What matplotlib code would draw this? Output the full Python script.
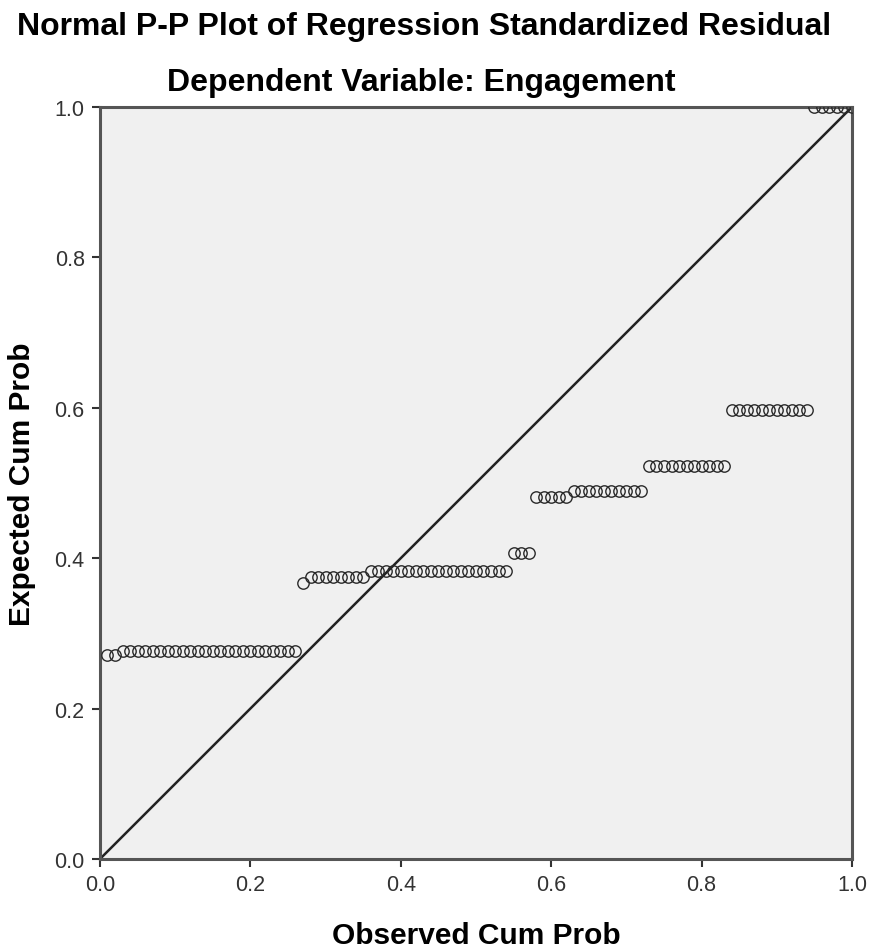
"""
Normal P-P plot of regression standardized residuals (SPSS style).
"""

import matplotlib
matplotlib.use("Agg")
import matplotlib.pyplot as plt
import numpy as np

# observed cumulative probability of each case (100 cases)
observed = [
    0.01, 0.02,
    0.03, 0.04, 0.05, 0.06, 0.07, 0.08, 0.09, 0.10, 0.11, 0.12, 0.13, 0.14,
    0.15, 0.16, 0.17, 0.18, 0.19, 0.20, 0.21, 0.22, 0.23, 0.24, 0.25, 0.26,
    0.27,
    0.28, 0.29, 0.30, 0.31, 0.32, 0.33, 0.34, 0.35,
    0.36, 0.37, 0.38, 0.39, 0.40, 0.41, 0.42, 0.43, 0.44, 0.45, 0.46, 0.47,
    0.48, 0.49, 0.50, 0.51, 0.52, 0.53, 0.54,
    0.55, 0.56, 0.57,
    0.58, 0.59, 0.60, 0.61, 0.62,
    0.63, 0.64, 0.65, 0.66, 0.67, 0.68, 0.69, 0.70, 0.71, 0.72,
    0.73, 0.74, 0.75, 0.76, 0.77, 0.78, 0.79, 0.80, 0.81, 0.82, 0.83,
    0.84, 0.85, 0.86, 0.87, 0.88, 0.89, 0.90, 0.91, 0.92, 0.93, 0.94,
    0.95, 0.96, 0.97, 0.98, 0.99, 1.00,
]

# expected cumulative probability levels and how many cases sit on each
expected_levels = [0.271, 0.277, 0.367, 0.375, 0.383, 0.407, 0.481, 0.490, 0.523, 0.597, 1.000]
level_counts = [2, 24, 1, 8, 19, 3, 5, 10, 11, 11, 6]

expected = np.repeat(expected_levels, level_counts)

ticks = [0.0, 0.2, 0.4, 0.6, 0.8, 1.0]
tick_labels = ["0.0", "0.2", "0.4", "0.6", "0.8", "1.0"]

plt.rcParams['font.family'] = ['Liberation Sans', 'DejaVu Sans']

fig = plt.figure(figsize=(8.70, 9.53), dpi=100)
ax = fig.add_axes([0.1149, 0.0976, 0.8644, 0.7891])
ax.set_facecolor('#f0f0f0')

# reference line
ax.plot([0, 1], [0, 1], color='#222222', linewidth=1.8, zorder=2)

# residual points
ax.plot(observed, expected, linestyle='none', marker='o', markersize=8.2,
        markerfacecolor='none', markeredgecolor='#2a2a2a', markeredgewidth=1.0,
        zorder=3)

ax.set_xlim(0, 1)
ax.set_ylim(0, 1)
ax.set_xticks(ticks)
ax.set_xticklabels(tick_labels)
ax.set_yticks(ticks)
ax.set_yticklabels(tick_labels)
ax.tick_params(direction='out', length=6, width=1.5, color='#333333',
               labelsize=15.5, labelcolor='#333333', pad=5)

for spine in ax.spines.values():
    spine.set_color('#555555')
    spine.set_linewidth(2.2)

ax.set_xlabel('Observed Cum Prob', fontsize=21.5, fontweight='bold')
ax.set_ylabel('Expected Cum Prob', fontsize=21.5, fontweight='bold')
ax.xaxis.label.set_va('center')
ax.yaxis.label.set_va('center')
ax.xaxis.set_label_coords(0.5, -0.101)
ax.yaxis.set_label_coords(-0.104, 0.5)

fig.text(0.487, 0.972, 'Normal P-P Plot of Regression Standardized Residual',
         ha='center', va='center', fontsize=23, fontweight='bold')
fig.text(0.484, 0.913, 'Dependent Variable: Engagement',
         ha='center', va='center', fontsize=23, fontweight='bold')

fig.savefig('out.png', dpi=100)
plt.close(fig)
